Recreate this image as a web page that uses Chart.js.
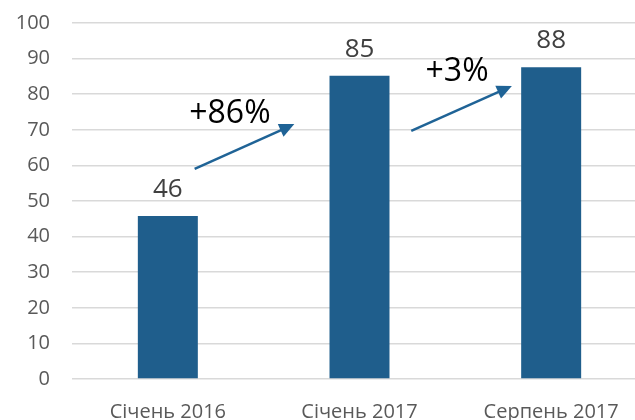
<!DOCTYPE html>
<html>
<head>
<meta charset="utf-8">
<script src="https://cdn.jsdelivr.net/npm/chart.js@4"></script>
<style>
html, body { margin: 0; padding: 0; background: #fff; overflow: hidden; }
#wrap { width: 660px; height: 420px; }
</style>
</head>
<body>
<div id="wrap"><canvas id="chart"></canvas></div>
<script>
const categories = ['Січень 2016', 'Січень 2017', 'Серпень 2017'];
const values = [45.8, 85.2, 87.6];
const valueLabels = ['46', '85', '88'];
const growthLabels = ['+86%', '+3%'];
// arrows given in axis units: [category index, value]
const arrowFrom = [[0.14, 59.0], [1.27, 69.7]];
const arrowTo = [[0.66, 71.6], [1.795, 82.3]];
const growthPos = [[0.324, 74.4], [1.509, 86.2]];

const barColor = '#1f5e8c';
const arrowColor = '#1f6396';
const fontName = "'Open Sans', sans-serif";

const annotations = {
  id: 'annotations',
  afterDatasetsDraw(chart) {
    const ctx = chart.ctx;
    const xs = chart.scales.x, ys = chart.scales.y;
    const meta = chart.getDatasetMeta(0);
    ctx.save();
    // value labels above bars
    ctx.fillStyle = '#404040';
    ctx.font = '26px ' + fontName;
    ctx.textAlign = 'center';
    ctx.textBaseline = 'alphabetic';
    meta.data.forEach((bar, i) => {
      ctx.fillText(valueLabels[i], bar.x, bar.y - 19);
    });
    // growth arrows
    const px = (p) => [xs.getPixelForValue(p[0]), ys.getPixelForValue(p[1])];
    arrowFrom.forEach((a, i) => {
      const [x1, y1] = px(a);
      const [x2, y2] = px(arrowTo[i]);
      const ang = Math.atan2(y2 - y1, x2 - x1);
      const head = 15, hw = 7;
      ctx.strokeStyle = arrowColor;
      ctx.fillStyle = arrowColor;
      ctx.lineWidth = 2.5;
      ctx.beginPath();
      ctx.moveTo(x1, y1);
      ctx.lineTo(x2 - Math.cos(ang) * head * 0.8, y2 - Math.sin(ang) * head * 0.8);
      ctx.stroke();
      ctx.beginPath();
      ctx.moveTo(x2, y2);
      ctx.lineTo(x2 - Math.cos(ang) * head - Math.sin(ang) * hw, y2 - Math.sin(ang) * head + Math.cos(ang) * hw);
      ctx.lineTo(x2 - Math.cos(ang) * head + Math.sin(ang) * hw, y2 - Math.sin(ang) * head - Math.cos(ang) * hw);
      ctx.closePath();
      ctx.fill();
    });
    // growth text
    ctx.fillStyle = '#000';
    ctx.font = '32px ' + fontName;
    ctx.textBaseline = 'middle';
    growthLabels.forEach((t, i) => {
      const [x, y] = px(growthPos[i]);
      ctx.fillText(t, x, y);
    });
    ctx.restore();
  }
};

new Chart(document.getElementById('chart'), {
  type: 'bar',
  data: {
    labels: categories,
    datasets: [{
      data: values,
      backgroundColor: barColor,
      borderWidth: 0,
      barPercentage: 0.313,
      categoryPercentage: 1
    }]
  },
  options: {
    responsive: true,
    maintainAspectRatio: false,
    animation: false,
    layout: { padding: { top: 23, right: 13, left: 0, bottom: 0 } },
    plugins: { legend: { display: false }, tooltip: { enabled: false } },
    scales: {
      x: {
        afterFit: (s) => { s.height = 41; },
        grid: { display: false },
        border: { display: false },
        ticks: { color: '#595959', font: { family: fontName, size: 20 }, padding: 13, maxRotation: 0 }
      },
      y: {
        min: 0,
        max: 100,
        afterFit: (s) => { s.width = 72; s.paddingTop = 0; s.paddingBottom = 0; },
        grid: { color: '#d9d9d9', lineWidth: 1.5, drawTicks: false },
        border: { display: false },
        ticks: { stepSize: 10, color: '#595959', font: { family: fontName, size: 20 }, padding: 22 }
      }
    }
  },
  plugins: [annotations]
});
</script>
</body>
</html>
